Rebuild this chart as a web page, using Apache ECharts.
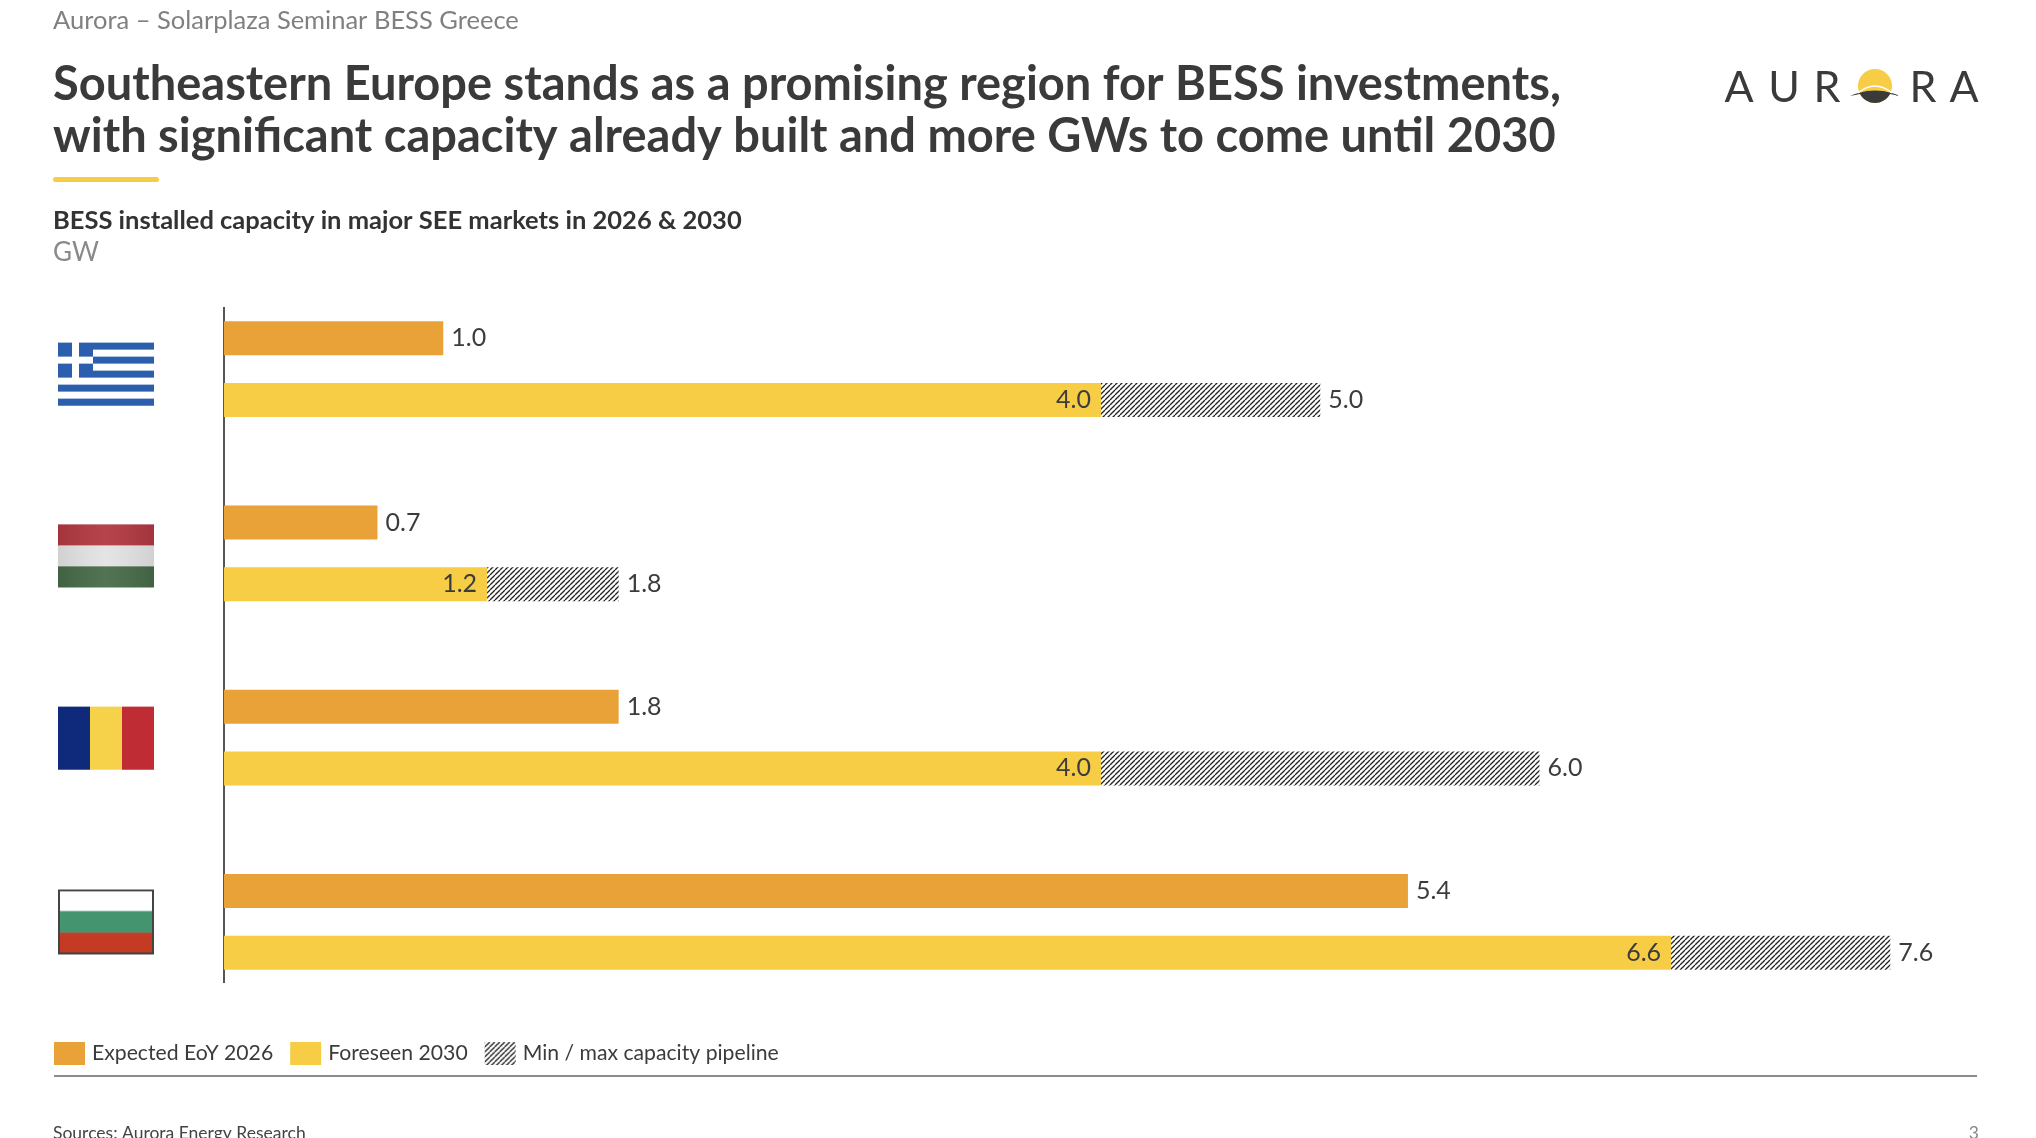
<!DOCTYPE html>
<html>
<head>
<meta charset="utf-8">
<title>BESS installed capacity SEE</title>
<script src="https://cdn.jsdelivr.net/npm/echarts@6/dist/echarts.min.js"></script>
<style>
    html, body { margin: 0; padding: 0; background: #fff; }
    #main { width: 2036px; height: 1138px; }
</style>
</head>
<body>
<div id="main"></div>
<script type="text/javascript">

    // data (GW)
    var countries = ['Greece', 'Hungary', 'Romania', 'Bulgaria'];
    var expected2026 = [1.0, 0.7, 1.8, 5.4];
    var foreseen2030 = [4.0, 1.2, 4.0, 6.6];
    var pipelineMax = [5.0, 1.8, 6.0, 7.6];
    var legendNames = ['Expected EoY 2026', 'Foreseen 2030', 'Min / max capacity pipeline'];

    var FONT = 'Lato, "Noto Sans", sans-serif';
    var ORANGE = '#e8a238';
    var YELLOW = '#f7cd45';
    var TEXT = '#3c3c3c';

    function makeCanvas(w, h, draw) {
        var c = document.createElement('canvas');
        c.width = w;
        c.height = h;
        draw(c.getContext('2d'), w, h);
        return c;
    }

    // hatch tile for the pipeline range
    var hatch = makeCanvas(5, 5, function (ctx, w, h) {
        ctx.fillStyle = '#fff';
        ctx.fillRect(0, 0, w, h);
        ctx.strokeStyle = '#222';
        ctx.lineWidth = 1.3;
        for (var k = -1; k <= 1; k++) {
            ctx.beginPath();
            ctx.moveTo(k * w, h);
            ctx.lineTo(k * w + w, 0);
            ctx.stroke();
        }
    });

    // flags (the extra top space nudges a flag down a little, as on the slide)
    var flags = {
        Greece: makeCanvas(96, 73, function (ctx, w, h) {
            var s = 7, y0 = 10;
            for (var i = 0; i < 9; i++) {
                ctx.fillStyle = i % 2 ? '#fff' : '#2b5fad';
                ctx.fillRect(0, y0 + i * s, w, s);
            }
            ctx.fillStyle = '#2b5fad';
            ctx.fillRect(0, y0, 5 * s, 5 * s);
            ctx.fillStyle = '#fff';
            ctx.fillRect(0, y0 + 2 * s, 5 * s, s);
            ctx.fillRect(2 * s, y0, s, 5 * s);
        }),
        Hungary: makeCanvas(96, 68, function (ctx, w, h) {
            var cols = ['#b13841', '#e3e3e3', '#476b48'], y0 = 5;
            for (var i = 0; i < 3; i++) {
                ctx.fillStyle = cols[i];
                ctx.fillRect(0, y0 + i * 21, w, 21);
            }
            var g = ctx.createLinearGradient(0, 0, w, 0);
            g.addColorStop(0, 'rgba(0,0,0,0.08)');
            g.addColorStop(0.5, 'rgba(255,255,255,0.06)');
            g.addColorStop(1, 'rgba(0,0,0,0.08)');
            ctx.fillStyle = g;
            ctx.fillRect(0, y0, w, 63);
        }),
        Romania: makeCanvas(96, 64, function (ctx, w, h) {
            var cols = ['#0f2a7b', '#f6d24b', '#c02c33'];
            for (var i = 0; i < 3; i++) {
                ctx.fillStyle = cols[i];
                ctx.fillRect(i * w / 3, 1, w / 3 + 0.5, 63);
            }
        }),
        Bulgaria: makeCanvas(96, 65, function (ctx, w, h) {
            var cols = ['#ffffff', '#43946f', '#c43a23'];
            for (var i = 0; i < 3; i++) {
                ctx.fillStyle = cols[i];
                ctx.fillRect(0, i * h / 3, w, h / 3 + 0.5);
            }
            ctx.strokeStyle = '#444';
            ctx.lineWidth = 2;
            ctx.strokeRect(1, 1, w - 2, h - 2);
        })
    };

    var flagRich = {};
    countries.forEach(function (c) {
        flagRich[c] = {
            width: flags[c].width,
            height: flags[c].height,
            backgroundColor: { image: flags[c] }
        };
    });

    var pipelineRange = pipelineMax.map(function (v, i) {
        return +(v - foreseen2030[i]).toFixed(2);
    });

    // logo: dark horizon under the sun
    function horizonShape(cx, cy, r) {
        var pts = [], t, i;
        for (i = 0; i <= 12; i++) {
            t = i / 12;
            pts.push([cx + (1 - t) * (1 - t) * -25 + t * t * 25,
                      cy + (1 - t) * (1 - t) * 10 + 2 * (1 - t) * t * -1 + t * t * 10]);
        }
        pts.push([cx + 15, cy + 8]);
        var a0 = Math.atan2(8, 15), a1 = Math.PI - a0;
        for (i = 0; i <= 16; i++) {
            t = a0 + (a1 - a0) * i / 16;
            pts.push([cx + r * Math.cos(t), cy + r * Math.sin(t)]);
        }
        return pts;
    }

    var labelStyle = {
        show: true,
        fontFamily: FONT,
        fontSize: 25,
        color: TEXT,
        padding: [3, 0, 0, 0]
    };

    var logoFont = '400 43px ' + FONT;
    var LX = -8;

    var myChart = echarts.init(document.getElementById('main'));

    var option = {
        backgroundColor: '#fff',
        animation: false,
        textStyle: { fontFamily: FONT },
        title: [
            {
                text: 'Aurora – Solarplaza Seminar BESS Greece',
                left: 48, top: 2,
                textStyle: { fontFamily: FONT, fontSize: 25.5, fontWeight: 'normal', color: '#808080', lineHeight: 28 }
            },
            {
                text: 'Southeastern Europe stands as a promising region for BESS investments,\nwith significant capacity already built and more GWs to come until 2030',
                left: 48, top: 54,
                textStyle: { fontFamily: FONT, fontSize: 47, fontWeight: 'bold', color: '#3a3a3a', lineHeight: 52 }
            },
            {
                text: 'BESS installed capacity in major SEE markets in 2026 & 2030',
                left: 48, top: 202,
                textStyle: { fontFamily: FONT, fontSize: 25.5, fontWeight: 'bold', color: '#333', lineHeight: 28 }
            },
            {
                text: 'GW',
                left: 48, top: 234,
                textStyle: { fontFamily: FONT, fontSize: 26, fontWeight: 'normal', color: '#8a8a8a', lineHeight: 28 }
            },
            {
                text: 'Sources: Aurora Energy Research',
                left: 48, top: 1118,
                textStyle: { fontFamily: FONT, fontSize: 17.5, fontWeight: 'normal', color: '#444', lineHeight: 20 }
            },
            {
                text: '3',
                right: 52, top: 1118,
                textStyle: { fontFamily: FONT, fontSize: 17.5, fontWeight: 'normal', color: '#888', lineHeight: 20 }
            }
        ],
        legend: {
            data: legendNames,
            left: 49,
            top: 1037,
            icon: 'rect',
            itemWidth: 31,
            itemHeight: 23,
            itemGap: 17,
            textStyle: { fontFamily: FONT, fontSize: 21.2, color: TEXT, padding: [0, 0, 0, 2] },
            selectedMode: false
        },
        grid: {
            left: 224,
            right: 58,
            top: 277,
            height: 737
        },
        xAxis: {
            type: 'value',
            min: 0,
            max: 8,
            show: false
        },
        yAxis: {
            type: 'category',
            data: countries,
            inverse: true,
            axisLine: { show: false },
            axisTick: { show: false },
            splitLine: { show: false },
            axisLabel: {
                margin: 70,
                formatter: function (v) { return '{' + v + '| }'; },
                rich: flagRich
            }
        },
        series: [
            {
                name: legendNames[0],
                type: 'bar',
                barWidth: 34,
                barGap: '81%',
                data: expected2026,
                itemStyle: { color: ORANGE },
                label: Object.assign({}, labelStyle, {
                    position: 'right',
                    distance: 8,
                    formatter: function (p) { return p.value.toFixed(1); }
                })
            },
            {
                name: legendNames[1],
                type: 'bar',
                stack: 'y2030',
                barWidth: 34,
                data: foreseen2030,
                itemStyle: { color: YELLOW },
                label: Object.assign({}, labelStyle, {
                    position: 'insideRight',
                    distance: 10,
                    formatter: function (p) { return p.value.toFixed(1); }
                })
            },
            {
                name: legendNames[2],
                type: 'bar',
                stack: 'y2030',
                barWidth: 34,
                data: pipelineRange,
                itemStyle: { color: { image: hatch, repeat: 'repeat' } },
                label: Object.assign({}, labelStyle, {
                    position: 'right',
                    distance: 8,
                    formatter: function (p) { return pipelineMax[p.dataIndex].toFixed(1); }
                })
            }
        ],
        graphic: [
            // yellow underline under the headline
            { type: 'rect', shape: { x: 53, y: 177, width: 106, height: 5, r: 2.5 }, style: { fill: YELLOW } },
            // category axis line
            { type: 'line', shape: { x1: 224, y1: 307, x2: 224, y2: 983 }, style: { stroke: '#555', lineWidth: 2 } },
            // rule above sources
            { type: 'line', shape: { x1: 54, y1: 1076, x2: 1977, y2: 1076 }, style: { stroke: '#8c8c8c', lineWidth: 2 } },
            // logo
            { type: 'text', x: 1747 + LX, y: 88, style: { text: 'A', font: logoFont, fill: '#3a3a3a', align: 'center', verticalAlign: 'middle' } },
            { type: 'text', x: 1792 + LX, y: 88, style: { text: 'U', font: logoFont, fill: '#3a3a3a', align: 'center', verticalAlign: 'middle' } },
            { type: 'text', x: 1835 + LX, y: 88, style: { text: 'R', font: logoFont, fill: '#3a3a3a', align: 'center', verticalAlign: 'middle' } },
            { type: 'circle', shape: { cx: 1883 + LX, cy: 86, r: 17 }, style: { fill: YELLOW } },
            { type: 'polygon', shape: { points: horizonShape(1883 + LX, 86, 17) }, style: { fill: '#3a3a3a' } },
            {
                type: 'bezierCurve',
                shape: { x1: 1866 + LX, y1: 93, cpx1: 1877 + LX, cpy1: 84, x2: 1900 + LX, y2: 93, cpx2: 1889 + LX, cpy2: 84 },
                style: { fill: null, stroke: '#fff', lineWidth: 1.5 }
            },
            { type: 'text', x: 1931 + LX, y: 88, style: { text: 'R', font: logoFont, fill: '#3a3a3a', align: 'center', verticalAlign: 'middle' } },
            { type: 'text', x: 1972 + LX, y: 88, style: { text: 'A', font: logoFont, fill: '#3a3a3a', align: 'center', verticalAlign: 'middle' } }
        ]
    };

    myChart.setOption(option);

</script>
</body>
</html>
